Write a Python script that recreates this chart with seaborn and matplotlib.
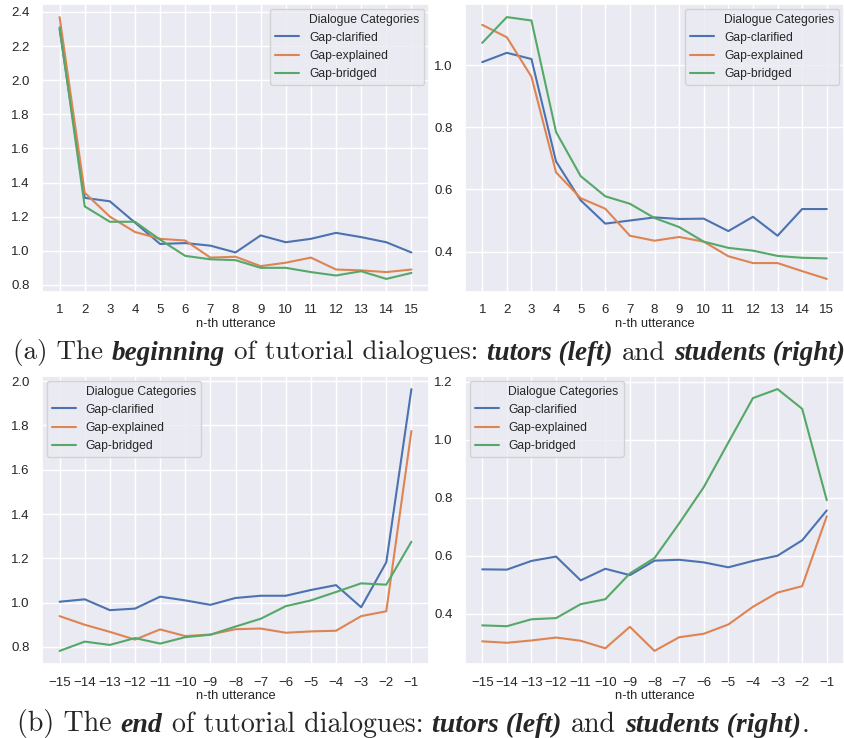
import pandas as pd
import seaborn as sns
import matplotlib.pyplot as plt
from matplotlib.lines import Line2D
from matplotlib.ticker import MultipleLocator
from matplotlib.offsetbox import TextArea, DrawingArea, HPacker, AnnotationBbox

categories = ['Gap-clarified', 'Gap-explained', 'Gap-bridged']
start_pos = list(range(1, 16))
end_pos = list(range(-15, 0))

# beginning of dialogues
tutor_start_clarified = [2.30, 1.31, 1.29, 1.165, 1.04, 1.045, 1.03, 0.99, 1.09, 1.05, 1.07, 1.105, 1.08, 1.05, 0.99]
tutor_start_explained = [2.37, 1.34, 1.20, 1.11, 1.07, 1.06, 0.96, 0.965, 0.91, 0.93, 0.96, 0.89, 0.885, 0.875, 0.89]
tutor_start_bridged = [2.31, 1.26, 1.17, 1.17, 1.065, 0.97, 0.95, 0.945, 0.90, 0.90, 0.875, 0.855, 0.88, 0.835, 0.87]

student_start_clarified = [1.01, 1.04, 1.02, 0.69, 0.565, 0.49, 0.50, 0.51, 0.505, 0.506, 0.466, 0.512, 0.451, 0.537, 0.537]
student_start_explained = [1.13, 1.09, 0.963, 0.655, 0.572, 0.538, 0.451, 0.435, 0.447, 0.432, 0.385, 0.363, 0.363, 0.337, 0.312]
student_start_bridged = [1.072, 1.155, 1.144, 0.785, 0.643, 0.578, 0.554, 0.508, 0.479, 0.432, 0.412, 0.403, 0.386, 0.38, 0.378]

# end of dialogues
tutor_end_clarified = [1.004, 1.015, 0.966, 0.973, 1.027, 1.010, 0.99, 1.021, 1.031, 1.031, 1.057, 1.079, 0.979, 1.182, 1.964]
tutor_end_explained = [0.939, 0.90, 0.868, 0.833, 0.879, 0.849, 0.856, 0.88, 0.883, 0.864, 0.87, 0.873, 0.939, 0.961, 1.775]
tutor_end_bridged = [0.782, 0.824, 0.809, 0.84, 0.815, 0.844, 0.855, 0.892, 0.927, 0.984, 1.010, 1.048, 1.087, 1.081, 1.275]

student_end_clarified = [0.553, 0.552, 0.582, 0.597, 0.515, 0.555, 0.533, 0.583, 0.586, 0.577, 0.560, 0.582, 0.60, 0.653, 0.756]
student_end_explained = [0.305, 0.30, 0.308, 0.318, 0.307, 0.281, 0.355, 0.272, 0.319, 0.331, 0.363, 0.424, 0.473, 0.495, 0.736]
student_end_bridged = [0.360, 0.357, 0.381, 0.385, 0.433, 0.45, 0.539, 0.592, 0.711, 0.836, 0.99, 1.143, 1.174, 1.106, 0.791]


def long_frame(pos, series):
    rows = []
    for cat, vals in zip(categories, series):
        for p, v in zip(pos, vals):
            rows.append((p, v, cat))
    return pd.DataFrame(rows, columns=['utterance', 'score', 'category'])


sns.set_theme(style='darkgrid')
plt.rcParams['font.family'] = ['Liberation Sans', 'DejaVu Sans']

fig = plt.figure(figsize=(8.44, 7.38), dpi=100)
W, H = 844, 738


def px_axes(x0, y0, x1, y1):
    return fig.add_axes([x0 / W, 1 - y1 / H, (x1 - x0) / W, (y1 - y0) / H])


panels = [
    (px_axes(42, 4, 429, 292), start_pos,
     [tutor_start_clarified, tutor_start_explained, tutor_start_bridged], 'upper right'),
    (px_axes(465, 4, 844, 292), start_pos,
     [student_start_clarified, student_start_explained, student_start_bridged], 'upper right'),
    (px_axes(42, 376, 429, 664), end_pos,
     [tutor_end_clarified, tutor_end_explained, tutor_end_bridged], 'upper left'),
    (px_axes(465, 376, 844, 664), end_pos,
     [student_end_clarified, student_end_explained, student_end_bridged], 'upper left'),
]

for ax, pos, series, loc in panels:
    df = long_frame(pos, series)
    sns.lineplot(data=df, x='utterance', y='score', hue='category',
                 hue_order=categories, ax=ax, linewidth=1.5)
    ax.set_xticks(pos)
    ax.yaxis.set_major_locator(MultipleLocator(0.2))
    ax.set_xlabel('n-th utterance', fontsize=9.3, labelpad=1)
    ax.set_ylabel('')
    ax.tick_params(labelsize=9.5, pad=3)
    # title as an entry with an invisible handle (old seaborn style)
    handles, labels = ax.get_legend_handles_labels()
    blank = Line2D([], [], linestyle='none')
    ax.legend([blank] + handles, ['Dialogue Categories'] + labels, loc=loc,
              fontsize=8.7, borderaxespad=0.4)


def caption(parts, xy, size):
    kids = []
    for i, (txt, bold) in enumerate(parts):
        if bold:
            props = dict(family='Liberation Serif', weight='bold', style='italic', size=size)
        else:
            props = dict(family='cmr10', size=size)
        if i > 0 and not txt.startswith('.'):
            kids.append(DrawingArea(size * 0.33, 1))
        kids.append(TextArea(txt, textprops=props))
    box = HPacker(children=kids, sep=0, align='baseline')
    fig.add_artist(AnnotationBbox(box, xy, xycoords='figure fraction',
                                  frameon=False, box_alignment=(0.5, 0.5)))


caption([('(a) The', False), ('beginning', True), ('of tutorial dialogues:', False),
         ('tutors (left)', True), ('and', False), ('students (right)', True)],
        (429 / W, 1 - 353 / H), 19.5)
caption([('(b) The', False), ('end', True), ('of tutorial dialogues:', False),
         ('tutors (left)', True), ('and', False), ('students (right)', True), ('.', False)],
        (413 / W, 1 - 724 / H), 20.1)

fig.savefig('out.png', dpi=100)
